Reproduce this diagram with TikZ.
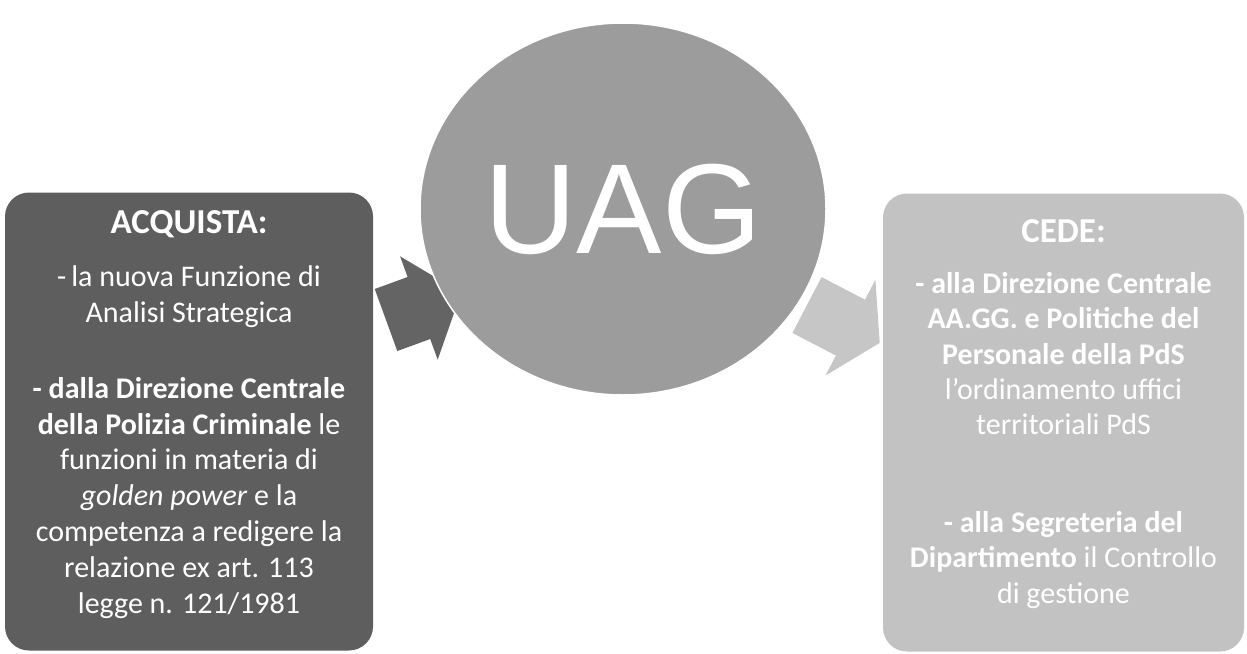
\documentclass[tikz,border=0pt]{standalone}
\usepackage{fontspec}
\setmainfont{Carlito}
\newfontfamily\hubfont{Liberation Sans}
\usetikzlibrary{shapes,positioning}
\definecolor{darkpanel}{HTML}{5E5E5E}
\definecolor{darkarrow}{HTML}{646464}
\definecolor{hubgray}{HTML}{9C9C9C}
\definecolor{lightpanel}{HTML}{C2C2C2}
\definecolor{lightarrow}{HTML}{C6C6C6}
\tikzstyle{panel}=[rectangle,rounded corners=24pt,inner sep=0pt,minimum height=458pt]
\tikzstyle{hub}=[ellipse,draw=white,line width=1.5pt,fill=hubgray,inner sep=0pt,minimum width=406pt,minimum height=372pt,text=white,font=\hubfont\fontsize{128}{128}\selectfont]
\tikzstyle{heading}=[text=white,inner sep=0pt,font=\fontsize{35}{42}\selectfont\bfseries]
\tikzstyle{body}=[text=white,inner sep=0pt,align=center,font=\fontsize{30}{35.2}\selectfont]

\begin{document}
\begin{tikzpicture}[x=1pt,y=-1pt]
    \useasboundingbox (0,0) rectangle (1247,653);

    % Frecce
    \begin{scope}[shift={(386,320)},rotate=20]
      \fill[darkarrow] (0,-33) -- (35,-33) -- (35,-55) -- (80,0) -- (35,55) -- (35,33) -- (0,33) -- cycle;
    \end{scope}
    \begin{scope}[shift={(807,305)},rotate=-27.5]
      \fill[lightarrow] (0,-31.5) -- (49,-31.5) -- (49,-54) -- (82,0) -- (49,54) -- (49,31.5) -- (0,31.5) -- cycle;
    \end{scope}

    % Nodi
    \node[hub] (uag) at (623,209) {UAG};
    \node[panel,fill=darkpanel,minimum width=368pt] (acquista) at (189,421.5) {};
    \node[panel,fill=lightpanel,minimum width=361pt] (cede) at (1063.5,422.5) {};

    % Testi
    \node[heading,anchor=base] (acqHead) at (189,233) {ACQUISTA:};
    \node[body,below=28pt of acqHead,font=\fontsize{30}{35.8}\selectfont] (acqBody) {-\,la nuova Funzione di\\ Analisi Strategica\\[40pt]
      \textbf{- dalla Direzione Centrale}\\ \textbf{della Polizia Criminale} le\\ funzioni in materia di\\
      \textit{golden power} e la\\ competenza a redigere la\\ relazione ex art. 113\\ legge n. 121/1981};
    \node[heading,anchor=base] (cedeHead) at (1063.5,242) {CEDE:};
    \node[body,below=30pt of cedeHead] (cedeBody) {\textbf{- alla Direzione Centrale}\\ \textbf{AA.GG. e Politiche del}\\
      \textbf{Personale della PdS}\\ l'ordinamento uffici\\ territoriali PdS\\[63pt]
      \textbf{- alla Segreteria del}\\ \textbf{Dipartimento} il Controllo\\ di gestione};

\end{tikzpicture}
\end{document}
